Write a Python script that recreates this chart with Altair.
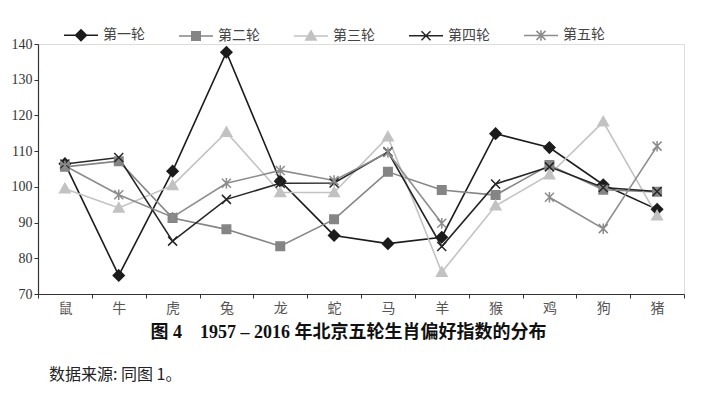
import altair as alt
import pandas as pd

zodiac = ["鼠", "牛", "虎", "兔", "龙", "蛇", "马", "羊", "猴", "鸡", "狗", "猪"]
series_names = ["第一轮", "第二轮", "第三轮", "第四轮", "第五轮"]

round1 = [106.5, 75.2, 104.4, 137.7, 101.6, 86.4, 84.1, 85.9, 114.9, 111.0, 100.6, 93.7]
round2 = [105.6, 107.2, 91.3, 88.1, 83.4, 90.9, 104.2, 99.1, 97.7, 106.1, 99.2, 98.6]
round3 = [99.5, 94.1, 100.4, 115.3, 98.4, 98.4, 114.0, 76.1, 94.7, 103.4, 118.2, 91.9]
round4 = [106.4, 108.2, 84.8, 96.5, 101.0, 101.1, 109.8, 83.3, 100.8, 105.6, 99.8, 98.7]
round5 = [105.9, 97.8, 91.5, 101.0, 104.6, 101.8, 109.6, 89.8, None, 97.1, 88.3, 111.4]

colors = ["#1c1c1c", "#858585", "#c2c2c2", "#262626", "#8c8c8c"]

marker_paths = [
    "M0,-1.1L1.1,0L0,1.1L-1.1,0Z",
    "M-0.85,-0.85L0.85,-0.85L0.85,0.85L-0.85,0.85Z",
    "M0,-1.05L1.05,0.8L-1.05,0.8Z",
    "M-0.9,-0.9L0.9,0.9M-0.9,0.9L0.9,-0.9",
    "M-0.9,-0.9L0.9,0.9M-0.9,0.9L0.9,-0.9M0,-1.05L0,1.05",
]
legend_line = "M-3.4,0L3.4,0"
legend_paths = [legend_line + p for p in marker_paths]

rows = []
for name, vals in zip(series_names, [round1, round2, round3, round4, round5]):
    for z, v in zip(zodiac, vals):
        rows.append({"生肖": z, "轮次": name, "指数": v})
df = pd.DataFrame(rows)

caption = "图 4\u20031957 – 2016 年北京五轮生肖偏好指数的分布"

x = alt.X(
    "生肖:N",
    sort=zodiac,
    bandPosition=0.5,
    scale=alt.Scale(type="band", paddingInner=0, paddingOuter=0),
    axis=alt.Axis(
        title=caption,
        titleFont="Liberation Serif, Noto Sans CJK SC",
        titleFontSize=18,
        titleFontWeight="bold",
        titleColor="#111111",
        titlePadding=8,
        titleX=310,
        labelAngle=0,
        labelFont="Noto Sans CJK SC",
        labelFontSize=14,
        labelColor="#555555",
        labelPadding=3,
        tickBand="extent",
        tickSize=4,
        tickColor="#333333",
        domainColor="#333333",
        domainWidth=1.2,
        grid=False,
    ),
)
y = alt.Y(
    "指数:Q",
    scale=alt.Scale(domain=[70, 140], nice=False, zero=False),
    axis=alt.Axis(
        title=None,
        values=[70, 80, 90, 100, 110, 120, 130, 140],
        labelFont="Liberation Serif",
        labelFontSize=14,
        labelColor="#333333",
        labelPadding=2,
        tickSize=4,
        tickColor="#333333",
        domainColor="#333333",
        domainWidth=1.2,
        grid=False,
    ),
)

base = alt.Chart(df)

lines = base.mark_line(strokeWidth=1.6, invalid="break-paths-filter-domains").encode(
    x=x,
    y=y,
    color=alt.Color("轮次:N", scale=alt.Scale(domain=series_names, range=colors), legend=None),
)

points = base.transform_filter("isValid(datum['指数'])").mark_point(
    filled=True, size=100, strokeWidth=1.5, opacity=1
).encode(
    x=x,
    y=y,
    shape=alt.Shape("轮次:N", scale=alt.Scale(domain=series_names, range=marker_paths), legend=None),
    fill=alt.Fill("轮次:N", scale=alt.Scale(domain=series_names, range=colors), legend=None),
    stroke=alt.Stroke("轮次:N", scale=alt.Scale(domain=series_names, range=colors), legend=None),
)

leg = alt.Legend(
    title=None,
    orient="none",
    legendX=36,
    legendY=-16,
    direction="horizontal",
    columns=5,
    symbolSize=100,
    symbolStrokeWidth=1.5,
    symbolOpacity=1,
    labelOffset=15,
    columnPadding=31,
    labelFont="Noto Sans CJK SC",
    labelFontSize=14,
    labelColor="#444444",
)

legend_layer = base.transform_filter("false").mark_point(
    filled=True, size=100, strokeWidth=1.5, opacity=1
).encode(
    x=x,
    y=y,
    shape=alt.Shape("轮次:N", scale=alt.Scale(domain=series_names, range=legend_paths), legend=leg),
    fill=alt.Fill("轮次:N", scale=alt.Scale(domain=series_names, range=colors), legend=leg),
    stroke=alt.Stroke("轮次:N", scale=alt.Scale(domain=series_names, range=colors), legend=leg),
)

chart = alt.layer(lines, points, legend_layer).resolve_scale(
    shape="independent", fill="independent", stroke="independent"
).properties(
    width=646,
    height=250,
    padding={"left": 3, "right": 5, "top": 20, "bottom": 5},
    title=alt.Title(
        "数据来源: 同图 1。",
        orient="bottom",
        anchor="start",
        dx=38,
        offset=26,
        font="Noto Sans CJK SC",
        fontSize=16,
        fontWeight="normal",
        color="#222222",
    ),
).configure_view(stroke=None).configure(background="white")

chart.save("out.html", embed_options={"renderer": "svg", "actions": False})
